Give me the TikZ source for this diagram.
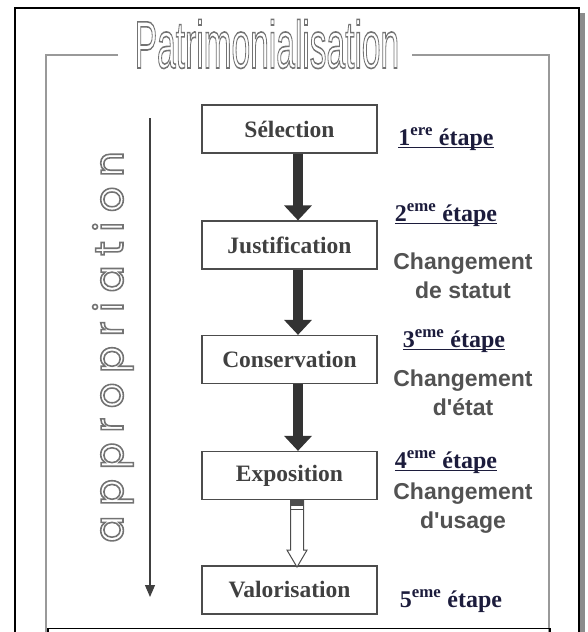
\documentclass[tikz,border=0pt]{standalone}
\usepackage{fontspec}
\usepackage{graphicx}
\setmainfont{Liberation Serif}
\newfontfamily\sansfont{Liberation Sans}
\newfontfamily\roundfont{Poppins}
\usetikzlibrary{arrows.meta,calc}

\definecolor{etapeblue}{RGB}{28,28,60}
\newcommand{\contourtext}[1]{\special{pdf:literal direct 1 Tr 1.6 w}#1\special{pdf:literal direct 0 Tr}}

\tikzset{
  etapebox/.style={draw=black!70, line width=1.2pt, minimum width=175pt, minimum height=48pt,
    inner sep=0pt, text=black!75, font=\fontsize{23.5}{27}\selectfont\bfseries},
  etape/.style={inner sep=0pt, anchor=base, text=etapeblue, font=\fontsize{24}{28}\selectfont\bfseries},
  changement/.style={align=center, text=black!68, font=\sansfont\fontsize{23}{28.5}\selectfont\bfseries},
  flux/.style={line width=10pt, black!80, -{Triangle[width=27pt,length=15pt]}},
  souligne/.style={line width=1.5pt, etapeblue}
}

\begin{document}
\begin{tikzpicture}[x=1pt,y=-1pt]
            \useasboundingbox (0,0) rectangle (587,632);

            % Frames
            \fill[black!45] (580,13) rectangle (585,632);
            \draw[line width=1.3pt] (15,632) -- (15,8) -- (579,8) -- (579,632);
            \draw[black!40, line width=2.2pt] (118,55) -- (46,55) -- (46,632);
            \draw[black!40, line width=2.2pt] (412,55) -- (549,55) -- (549,632);
            \draw[line width=1.2pt] (48,634) -- (48,628.5) -- (550,628.5) -- (550,634);

            % Titles
            \node[text=black!55] (titre) at (267,44)
                {\sansfont\fontsize{67}{70}\selectfont\scalebox{0.5}[1]{\contourtext{Patrimonialisation}}};
            \node[rotate=90, text=black!55] (appro) at (113,347)
                {\roundfont\fontsize{40}{44}\selectfont\addfontfeature{LetterSpace=24}\contourtext{appropriation}};
            \coordinate (haut) at (150,118);
            \coordinate (bas) at (150,597);
            \draw[black!75, line width=1.2pt, -{Triangle[width=10pt,length=12pt]}] (haut) -- (bas);

            % Steps
            \node[etapebox] (sel) at (289.5,129) {Sélection};
            \node[etapebox] (jus) at (289.5,245) {Justification};
            \node[etapebox] (con) at (289.5,359.5) {Conservation};
            \node[etapebox] (expo) at (289.5,475.5) {Exposition};
            \node[etapebox] (valo) at (289.5,590) {Valorisation};

            \draw[flux] ([xshift=8.5pt]sel.south) -- ([xshift=8.5pt]jus.north);
            \draw[flux] ([xshift=8.5pt]jus.south) -- ([xshift=8.5pt]con.north);
            \draw[flux] ([xshift=8.5pt]con.south) -- ([xshift=8.5pt]expo.north);
            \draw[fill=white, draw=black!70, line width=1pt] ([xshift=1pt]expo.south)
                -- ++(0,50) -- ++(-3.5,0) -- ++(10,17) -- ++(10,-17) -- ++(-3.5,0) -- ++(0,-50) -- cycle;
            \fill[black!70] ([xshift=1pt]expo.south) rectangle ++(13,6);
            \draw[black!70, line width=1pt] ([xshift=1pt,yshift=-9pt]expo.south) -- ++(13,0);

            % Labels
            \node[etape] (e1) at (446,145) {1\textsuperscript{ere} étape};
            \node[etape] (e2) at (446,221) {2\textsuperscript{eme} étape};
            \node[etape] (e3) at (454,347) {3\textsuperscript{eme} étape};
            \node[etape] (e4) at (446,468) {4\textsuperscript{eme} étape};
            \node[etape] (e5) at (451,607) {5\textsuperscript{eme} étape};
            \foreach \e in {e1,e2,e3,e4}
                \draw[souligne] ([yshift=-2.5pt]\e.base west) -- ([yshift=-2.5pt]\e.base east);

            \node[changement] (c2) at (463,276) {Changement\\de statut};
            \node[changement] (c3) at (463,393) {Changement\\d'état};
            \node[changement] (c4) at (463,508) {Changement\\d'usage};
\end{tikzpicture}
\end{document}
